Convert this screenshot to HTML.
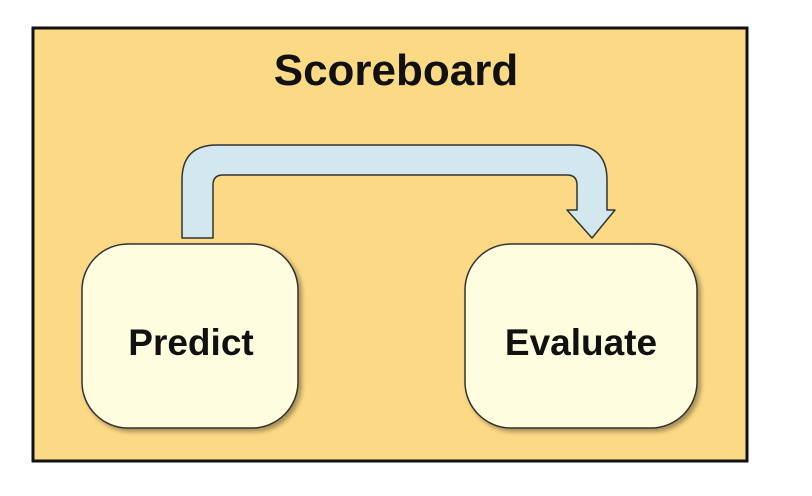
<!DOCTYPE html>
<html><head><meta charset="utf-8"><style>
html,body{margin:0;padding:0;background:#fff;width:812px;height:496px;overflow:hidden}
</style></head><body>
<svg width="812" height="496" xmlns="http://www.w3.org/2000/svg">
<defs>
<filter id="sh" x="-20%" y="-20%" width="150%" height="150%"><feDropShadow dx="3" dy="3" stdDeviation="2.5" flood-color="#000" flood-opacity="0.35"/></filter>
</defs>
<rect x="33" y="28" width="714" height="433" fill="#fcd985" stroke="#111" stroke-width="3"/>
<text x="396" y="85" font-family="Liberation Sans, sans-serif" font-weight="bold" font-size="44" text-anchor="middle" fill="#111">Scoreboard</text>
<path d="M182 238 L182 180 Q182 145 217 145 L572 145 Q607 145 607 180 L607 210 L615 210 L592 238 L567 210 L577 210 L577 185 Q577 175 567 175 L223 175 Q213 175 213 185 L213 238 Z" fill="#d3e8ee" stroke="#333" stroke-width="1.5" stroke-linejoin="round"/>
<rect x="82" y="244" width="216" height="184" rx="46" fill="#fffde0" stroke="#333" stroke-width="1.5" filter="url(#sh)"/>
<rect x="465" y="244" width="232" height="184" rx="46" fill="#fffde0" stroke="#333" stroke-width="1.5" filter="url(#sh)"/>
<text x="191" y="355" font-family="Liberation Sans, sans-serif" font-weight="bold" font-size="37" text-anchor="middle" fill="#111">Predict</text>
<text x="581" y="355" font-family="Liberation Sans, sans-serif" font-weight="bold" font-size="37" text-anchor="middle" fill="#111">Evaluate</text>
</svg>
</body></html>
